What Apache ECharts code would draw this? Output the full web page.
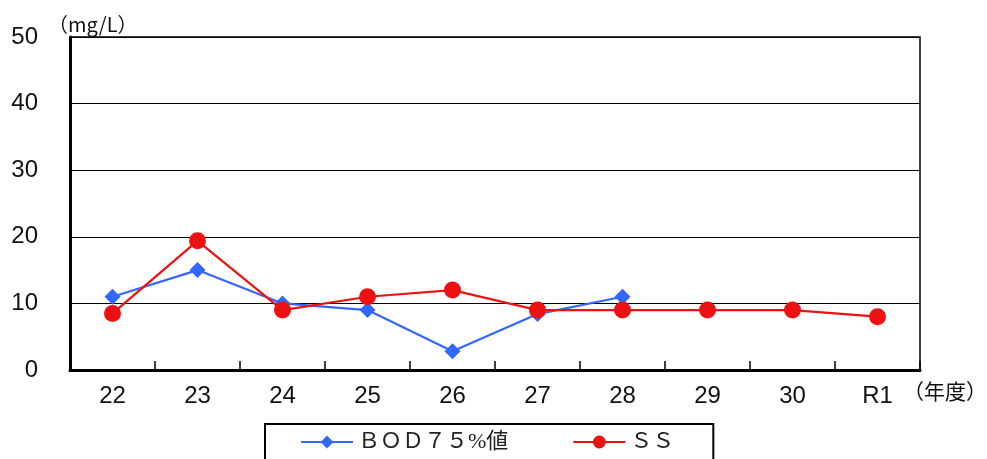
<!DOCTYPE html>
<html><head><meta charset="utf-8">
<script src="https://cdn.jsdelivr.net/npm/echarts@6/dist/echarts.min.js"></script>
<style>html,body{margin:0;padding:0;background:#fff}#c{width:987px;height:459px}</style>
</head><body><div id="c"></div>
<script>
const categories = ['22','23','24','25','26','27','28','29','30','R1'];
const bodValues = [11, 15, 10, 9, 2.8, 8.4, 11, null, null, null];
const ssValues = [8.5, 19.4, 9, 11, 12, 9, 9, 9, 9, 8];
const yTicks = [0, 10, 20, 30, 40, 50];
const bodName = 'ＢＯＤ７５%値';
const ssName = 'ＳＳ';

const chart = echarts.init(document.getElementById('c'));
const labelFont = {color:'#111', fontSize:24, fontFamily:'Liberation Sans, Arial, sans-serif'};
const legendFont = 'Liberation Serif, Noto Sans CJK JP, serif';
chart.setOption({
  animation:false,
  backgroundColor:'#fff',
  grid:{left:70, right:67, top:37, bottom:89, show:true, borderColor:'#000', borderWidth:1.5},
  legend:{
    left:265, top:424,
    itemWidth:52, itemHeight:16, itemGap:64,
    padding:[7,39,20,35],
    borderColor:'#000', borderWidth:2, backgroundColor:'#fff',
    textStyle:{fontSize:22, color:'#222', fontFamily:legendFont},
    data:[bodName, ssName]
  },
  graphic:[
    {type:'text', left:48, top:14, style:{text:'（mg/L）', fontSize:20, fill:'#111', fontFamily:'Noto Sans CJK JP, sans-serif'}},
    {type:'text', left:903, top:381, style:{text:'（年度）', fontSize:21, fill:'#111', fontFamily:'Noto Sans CJK JP, sans-serif'}}
  ],
  xAxis:{
    type:'category', data:categories, boundaryGap:true,
    axisLine:{lineStyle:{color:'#000', width:3}},
    axisTick:{show:true, inside:true, length:9, lineStyle:{color:'#000', width:1.5}},
    axisLabel:Object.assign({margin:14}, labelFont)
  },
  yAxis:{
    type:'value', min:yTicks[0], max:yTicks[yTicks.length-1], interval:10,
    axisLine:{show:true, lineStyle:{color:'#000', width:3}},
    axisTick:{show:false},
    splitLine:{lineStyle:{color:'#000', width:1}},
    axisLabel:Object.assign({margin:32}, labelFont)
  },
  series:[
    {name:bodName, type:'line', data:bodValues, symbol:'diamond', symbolSize:16,
     itemStyle:{color:'#3366ff'}, lineStyle:{color:'#3366ff', width:2.2}, z:2},
    {name:ssName, type:'line', data:ssValues, symbol:'circle', symbolSize:17,
     itemStyle:{color:'#ee1111'}, lineStyle:{color:'#ee1111', width:2.2}, z:3}
  ]
});
</script></body></html>
